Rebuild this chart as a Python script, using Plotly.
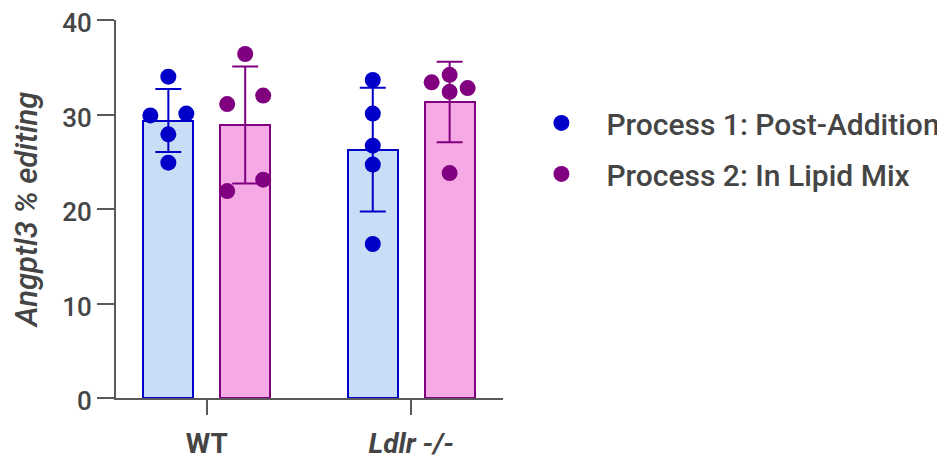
import numpy as np
import plotly.graph_objects as go

# ---- data ----
genotypes = ["WT", "Ldlr -/-"]
genotype_labels = ["<b>WT</b>", "<b><i>Ldlr -/-</i></b>"]
series_names = ["Process 1: Post-Addition", "Process 2: In Lipid Mix"]

p1_wt = [34.0, 29.9, 30.1, 27.9, 24.9]
p1_ldlr = [33.65, 30.1, 26.7, 24.7, 16.3]
p2_wt = [36.4, 31.1, 32.0, 21.9, 23.1]
p2_ldlr = [33.4, 34.2, 32.8, 32.4, 23.8]

# horizontal jitter of the individual dots (fraction of category spacing)
p1_jitter = [[0, -0.088, 0.088, 0, 0], [0, 0, 0, 0, 0]]
p2_jitter = [[0, -0.088, 0.088, -0.088, 0.088], [-0.088, 0, 0.088, 0, 0]]

y_ticks = [0, 10, 20, 30, 40]

# ---- styles ----
dot_colors = ["#0000C8", "#800080"]
fill_colors = ["#C9DDF6", "#F5AAE6"]
group_offset = [-0.188, 0.188]
bar_width = 0.246
text_color = "#454545"
axis_color = "#5a5a5a"
font_family = "Roboto"

series_points = [[p1_wt, p1_ldlr], [p2_wt, p2_ldlr]]
series_jitter = [p1_jitter, p2_jitter]

fig = go.Figure()
xpos = np.arange(len(genotypes), dtype=float)

for s in range(2):
    pts = series_points[s]
    means = [float(np.mean(v)) for v in pts]
    sds = [float(np.std(v, ddof=1)) for v in pts]
    fig.add_trace(go.Bar(
        x=xpos + group_offset[s], y=means, width=bar_width,
        marker=dict(color=fill_colors[s], line=dict(color=dot_colors[s], width=2)),
        error_y=dict(type="data", array=sds, visible=True, color=dot_colors[s],
                     thickness=2, width=13),
        showlegend=False, hoverinfo="skip",
    ))

for s in range(2):
    xs, ys = [], []
    for g in range(len(genotypes)):
        for v, j in zip(series_points[s][g], series_jitter[s][g]):
            xs.append(xpos[g] + group_offset[s] + j)
            ys.append(v)
    fig.add_trace(go.Scatter(
        x=xs, y=ys, mode="markers", name=series_names[s],
        marker=dict(color=dot_colors[s], size=16, line=dict(width=0)),
        legendgroup=f"g{s}",
    ))

fig.update_layout(
    width=945, height=463,
    margin=dict(l=108, r=450, t=12, b=73),
    plot_bgcolor="white", paper_bgcolor="white",
    font=dict(family=font_family, size=26, color=text_color, weight=500),
    showlegend=True,
    legend=dict(
        xref="container", yref="container", x=0.538, y=0.808,
        xanchor="left", yanchor="top",
        font=dict(size=30, color=text_color, family=font_family, weight=500),
        itemwidth=80, tracegroupgap=9, traceorder="grouped",
        bgcolor="rgba(0,0,0,0)",
    ),
    bargap=0,
)

fig.update_xaxes(
    range=[-0.444, 1.449], tickvals=list(xpos), ticktext=genotype_labels,
    showline=True, linecolor=axis_color, linewidth=2,
    ticks="outside", ticklen=15, tickwidth=2, tickcolor=axis_color,
    showgrid=False, zeroline=False, automargin=False, ticklabelstandoff=4,
    ticklabeloverflow="allow",
    tickfont=dict(size=28, color=text_color),
)
fig.update_yaxes(
    range=[0, 40], tickvals=y_ticks,
    showline=True, linecolor=axis_color, linewidth=2,
    ticks="outside", ticklen=17, tickwidth=2, tickcolor=axis_color,
    showgrid=False, zeroline=False, automargin=False,
    ticklabeloverflow="allow", ticklabelshift=3,
    tickfont=dict(size=26, color=text_color),
    title=dict(text="<i>Angptl3 % editing</i>", standoff=24,
               font=dict(size=31, color=text_color)),
)

fig.write_html("out.html")
